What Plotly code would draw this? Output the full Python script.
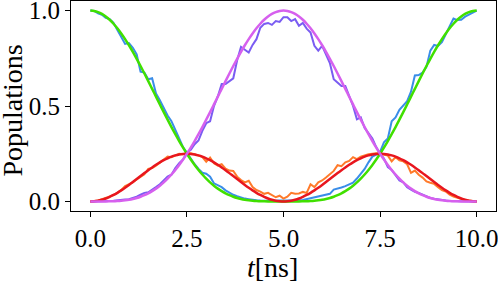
import plotly.graph_objects as go

# time grid (ns)
t = [round(i * 0.1, 1) for i in range(101)]

# smooth (ideal) populations
green_smooth = [1.0, 0.998, 0.9921, 0.9824, 0.9688, 0.9517, 0.931, 0.9071, 0.8801, 0.8504,
                0.8181, 0.7837, 0.7473, 0.7094, 0.6703, 0.6303, 0.5897, 0.5489, 0.5082, 0.4679,
                0.4284, 0.3898, 0.3525, 0.3166, 0.2824, 0.25, 0.2196, 0.1913, 0.1651, 0.1411,
                0.1194, 0.0998, 0.0824, 0.0671, 0.0539, 0.0425, 0.0329, 0.0249, 0.0184, 0.0132,
                0.0091, 0.0061, 0.0038, 0.0023, 0.0012, 0.0006, 0.0002, 0.0001, 0.0, 0.0,
                0.0, 0.0, 0.0, 0.0001, 0.0002, 0.0006, 0.0012, 0.0023, 0.0038, 0.0061,
                0.0091, 0.0132, 0.0184, 0.0249, 0.0329, 0.0425, 0.0539, 0.0671, 0.0824, 0.0998,
                0.1194, 0.1411, 0.1651, 0.1913, 0.2196, 0.25, 0.2824, 0.3166, 0.3525, 0.3898,
                0.4284, 0.4679, 0.5082, 0.5489, 0.5897, 0.6303, 0.6703, 0.7094, 0.7473, 0.7837,
                0.8181, 0.8504, 0.8801, 0.9071, 0.931, 0.9517, 0.9688, 0.9824, 0.9921, 0.998,
                1.0]

violet_smooth = [0.0, 0.0, 0.0, 0.0001, 0.0002, 0.0006, 0.0012, 0.0023, 0.0038, 0.0061,
                 0.0091, 0.0132, 0.0184, 0.0249, 0.0329, 0.0425, 0.0539, 0.0671, 0.0824, 0.0998,
                 0.1194, 0.1411, 0.1651, 0.1913, 0.2196, 0.25, 0.2824, 0.3166, 0.3525, 0.3898,
                 0.4284, 0.4679, 0.5082, 0.5489, 0.5897, 0.6303, 0.6703, 0.7094, 0.7473, 0.7837,
                 0.8181, 0.8504, 0.8801, 0.9071, 0.931, 0.9517, 0.9688, 0.9824, 0.9921, 0.998,
                 1.0, 0.998, 0.9921, 0.9824, 0.9688, 0.9517, 0.931, 0.9071, 0.8801, 0.8504,
                 0.8181, 0.7837, 0.7473, 0.7094, 0.6703, 0.6303, 0.5897, 0.5489, 0.5082, 0.4679,
                 0.4284, 0.3898, 0.3525, 0.3166, 0.2824, 0.25, 0.2196, 0.1913, 0.1651, 0.1411,
                 0.1194, 0.0998, 0.0824, 0.0671, 0.0539, 0.0425, 0.0329, 0.0249, 0.0184, 0.0132,
                 0.0091, 0.0061, 0.0038, 0.0023, 0.0012, 0.0006, 0.0002, 0.0001, 0.0, 0.0,
                 0.0]

red_smooth = [0.0, 0.001, 0.0039, 0.0088, 0.0155, 0.0239, 0.0339, 0.0453, 0.058, 0.0718,
              0.0864, 0.1016, 0.1172, 0.1328, 0.1484, 0.1636, 0.1782, 0.192, 0.2047, 0.2161,
              0.2261, 0.2345, 0.2412, 0.2461, 0.249, 0.25, 0.249, 0.2461, 0.2412, 0.2345,
              0.2261, 0.2161, 0.2047, 0.192, 0.1782, 0.1636, 0.1484, 0.1328, 0.1172, 0.1016,
              0.0864, 0.0718, 0.058, 0.0453, 0.0339, 0.0239, 0.0155, 0.0088, 0.0039, 0.001,
              0.0, 0.001, 0.0039, 0.0088, 0.0155, 0.0239, 0.0339, 0.0453, 0.058, 0.0718,
              0.0864, 0.1016, 0.1172, 0.1328, 0.1484, 0.1636, 0.1782, 0.192, 0.2047, 0.2161,
              0.2261, 0.2345, 0.2412, 0.2461, 0.249, 0.25, 0.249, 0.2461, 0.2412, 0.2345,
              0.2261, 0.2161, 0.2047, 0.192, 0.1782, 0.1636, 0.1484, 0.1328, 0.1172, 0.1016,
              0.0864, 0.0718, 0.058, 0.0453, 0.0339, 0.0239, 0.0155, 0.0088, 0.0039, 0.001,
              0.0]

# noisy (simulated) populations
blue_noisy = [1.0, 0.998, 0.985, 0.978, 0.962, 0.955, 0.935, 0.9, 0.86, 0.825,
              0.83, 0.805, 0.77, 0.68, 0.675, 0.64, 0.645, 0.565, 0.53, 0.49,
              0.45, 0.42, 0.37, 0.33, 0.285, 0.255, 0.22, 0.195, 0.17, 0.15,
              0.145, 0.13, 0.095, 0.085, 0.075, 0.058, 0.045, 0.035, 0.028, 0.02,
              0.015, 0.012, 0.008, 0.006, 0.005, 0.004, 0.003, 0.003, 0.004, 0.005,
              0.005, 0.004, 0.004, 0.005, 0.006, 0.008, 0.012, 0.018, 0.022, 0.027,
              0.03, 0.033, 0.04, 0.062, 0.066, 0.073, 0.08, 0.088, 0.098, 0.12,
              0.145, 0.17, 0.205, 0.235, 0.245, 0.26, 0.31, 0.33, 0.42, 0.44,
              0.48, 0.505, 0.525, 0.575, 0.66, 0.662, 0.675, 0.705, 0.79, 0.82,
              0.815, 0.835, 0.875, 0.92, 0.958, 0.95, 0.952, 0.968, 0.979, 0.99,
              1.0]

purple_noisy = [0.0, 0.0, 0.001, 0.001, 0.002, 0.003, 0.004, 0.005, 0.008, 0.01,
                0.012, 0.017, 0.025, 0.035, 0.045, 0.048, 0.06, 0.075, 0.09, 0.11,
                0.13, 0.14, 0.175, 0.2, 0.22, 0.255, 0.27, 0.3, 0.32, 0.37,
                0.41, 0.42, 0.5, 0.55, 0.615, 0.615, 0.63, 0.645, 0.74, 0.81,
                0.795, 0.78, 0.82, 0.85, 0.91, 0.93, 0.935, 0.925, 0.945, 0.94,
                0.965, 0.965, 0.945, 0.955, 0.92, 0.935, 0.905, 0.885, 0.815, 0.79,
                0.815, 0.77, 0.725, 0.64, 0.62, 0.605, 0.605, 0.55, 0.5, 0.43,
                0.44, 0.385, 0.36, 0.33, 0.285, 0.25, 0.225, 0.18, 0.165, 0.135,
                0.11, 0.1, 0.075, 0.062, 0.05, 0.044, 0.035, 0.03, 0.018, 0.014,
                0.01, 0.007, 0.005, 0.003, 0.002, 0.001, 0.001, 0.0, 0.0, 0.0,
                0.0]

orange_noisy = [0.0, 0.002, 0.005, 0.012, 0.018, 0.024, 0.033, 0.045, 0.06, 0.08,
                0.09, 0.1, 0.115, 0.13, 0.142, 0.17, 0.175, 0.188, 0.205, 0.22,
                0.235, 0.232, 0.24, 0.25, 0.247, 0.252, 0.252, 0.248, 0.24, 0.232,
                0.208, 0.23, 0.2, 0.188, 0.195, 0.172, 0.162, 0.16, 0.13, 0.112,
                0.1, 0.108, 0.075, 0.06, 0.052, 0.04, 0.045, 0.035, 0.022, 0.03,
                0.015, 0.025, 0.045, 0.04, 0.042, 0.05, 0.045, 0.09, 0.075, 0.1,
                0.11, 0.125, 0.145, 0.16, 0.19, 0.185, 0.205, 0.212, 0.232, 0.222,
                0.235, 0.242, 0.248, 0.25, 0.252, 0.25, 0.245, 0.24, 0.21, 0.232,
                0.215, 0.21, 0.195, 0.15, 0.162, 0.14, 0.125, 0.105, 0.098, 0.092,
                0.075, 0.06, 0.052, 0.035, 0.025, 0.018, 0.014, 0.008, 0.005, 0.002,
                0.0]

x_ticks = [0.0, 2.5, 5.0, 7.5, 10.0]
x_tick_labels = ["0.0", "2.5", "5.0", "7.5", "10.0"]
y_ticks = [0.0, 0.5, 1.0]
y_tick_labels = ["0.0", "0.5", "1.0"]

FONT = "Liberation Serif"

fig = go.Figure()
noisy = [(blue_noisy, "#3a8de8"), (purple_noisy, "#7a5cf2"), (orange_noisy, "#ff7a2a")]
for ys, col in noisy:
    fig.add_trace(go.Scatter(x=t, y=ys, mode="lines", line=dict(color=col, width=2),
                             showlegend=False, hoverinfo="skip", cliponaxis=False))
smooth = [(green_smooth, "#40e000"), (red_smooth, "#e8161e"), (violet_smooth, "#d660ee")]
for ys, col in smooth:
    fig.add_trace(go.Scatter(x=t, y=ys, mode="lines", line=dict(color=col, width=2.5, shape="spline"),
                             showlegend=False, hoverinfo="skip", cliponaxis=False))

axis_common = dict(showline=True, linecolor="black", linewidth=1, mirror=True,
                   ticks="outside", ticklen=5, tickwidth=1, tickcolor="black",
                   showgrid=False, zeroline=False, automargin=False,
                   ticklabeloverflow="allow",
                   tickfont=dict(family=FONT, size=25, color="black"))

fig.update_xaxes(range=[-0.5, 10.5], tickvals=x_ticks, ticktext=x_tick_labels, **axis_common)
fig.update_yaxes(range=[-0.05, 1.05], tickvals=y_ticks, ticktext=y_tick_labels, **axis_common)

fig.add_annotation(text="Populations", xref="paper", yref="paper", x=-0.138, y=0.48,
                   textangle=-90, showarrow=False, xanchor="center", yanchor="middle",
                   font=dict(family=FONT, size=28, color="black"))
fig.add_annotation(text="<i>t</i>[ns]", xref="paper", yref="paper", x=0.473, y=-0.267,
                   showarrow=False, xanchor="center", yanchor="middle",
                   font=dict(family=FONT, size=28, color="black"))

fig.update_layout(width=498, height=287, margin=dict(l=71, r=2, t=1, b=76, autoexpand=False),
                  plot_bgcolor="white", paper_bgcolor="white")

fig.write_html("out.html", config={"displayModeBar": False},
               post_script="document.body.style.margin='0';document.body.style.overflow='hidden';")
